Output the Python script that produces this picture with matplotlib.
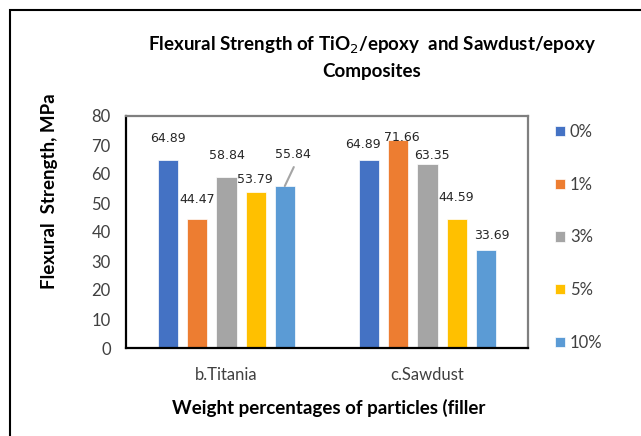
import matplotlib.pyplot as plt
import numpy as np
from matplotlib.patches import Rectangle

plt.rcParams['font.family'] = ['Lato', 'DejaVu Sans']

# data
groups = ['b.Titania', 'c.Sawdust']
series = ['0%', '1%', '3%', '5%', '10%']
titania = [64.89, 44.47, 58.84, 53.79, 55.84]
sawdust = [64.89, 71.66, 63.35, 44.59, 33.69]
colors = ['#4472C4', '#ED7D31', '#A5A5A5', '#FFC000', '#5B9BD5']

# label offsets (pixels) from top of each bar, as excel placed them
off_t = [(0, 21), (0, 20), (0, 22), (-1, 13), (8, 32)]
off_s = [(-6, 15), (3, 3), (4, 9), (0, 21), (6, 15)]

W, H = 641, 436
fig = plt.figure(figsize=(W / 100, H / 100), dpi=100)
ax = fig.add_axes([126 / W, (H - 348) / H, 402 / W, 232 / H])

# outer chart border
fig.patches.append(Rectangle((10 / W, -0.1), 1.2, (H - 10) / H + 0.1,
                             transform=fig.transFigure, fill=False,
                             edgecolor='black', linewidth=1.5))

x = np.arange(len(groups))
vals = np.array([titania, sawdust])
step = 0.145
width = 0.1
for i, s in enumerate(series):
    pos = x + (i - 2) * step
    bars = ax.bar(pos, vals[:, i], width, color=colors[i], label=s,
                  edgecolor='white', linewidth=0.5)
    for j, b in enumerate(bars):
        dx, dy = (off_t if j == 0 else off_s)[i]
        top = (b.get_x() + b.get_width() / 2, b.get_height())
        ax.annotate(f'{vals[j, i]:.2f}', top, xytext=(dx, dy),
                    textcoords='offset pixels', ha='center', va='center',
                    fontsize=9, color='#262626', family='DejaVu Sans')

# leader line for the 55.84 label
ax.annotate('', (x[0] + 2 * step, titania[4]), xytext=(9, 19),
            textcoords='offset pixels',
            arrowprops=dict(arrowstyle='-', color='#A5A5A5', lw=1.5,
                            shrinkA=0, shrinkB=0))

ax.set_xlim(-0.5, 1.5)
ax.set_ylim(0, 80)
ax.set_yticks(range(0, 81, 10))
ax.set_xticks(x)
ax.set_xticklabels(groups)
ax.tick_params(length=0, labelsize=12, colors='#404040', pad=11)
ax.tick_params(axis='x', pad=14)
for sp in ['left', 'bottom']:
    ax.spines[sp].set_color('black')
    ax.spines[sp].set_linewidth(1.6)
for sp in ['top', 'right']:
    ax.spines[sp].set_color('#7F7F7F')
    ax.spines[sp].set_linewidth(1.6)

fig.text(372 / W, 1 - 45 / H, 'Flexural Strength of TiO$_2$/epoxy  and Sawdust/epoxy',
         ha='center', va='center', fontsize=13.5, fontweight='bold')
fig.text(372 / W, 1 - 72 / H, 'Composites', ha='center', va='center',
         fontsize=13.5, fontweight='bold')
fig.text(50 / W, 1 - 191 / H, 'Flexural  Strength, MPa', rotation=90,
         ha='center', va='center', fontsize=13.5, fontweight='bold')
fig.text(329 / W, 1 - 408 / H, 'Weight percentages of particles (filler',
         ha='center', va='center', fontsize=13.5, fontweight='bold')

leg = fig.legend(loc='upper left', bbox_to_anchor=(555 / W, 1 - 124 / H),
                 frameon=False, fontsize=12, handlelength=0.6,
                 handleheight=0.6, handletextpad=0.3, labelspacing=2.2,
                 borderpad=0, borderaxespad=0)
for t in leg.get_texts():
    t.set_color('#404040')

fig.savefig('out.png', dpi=100)
